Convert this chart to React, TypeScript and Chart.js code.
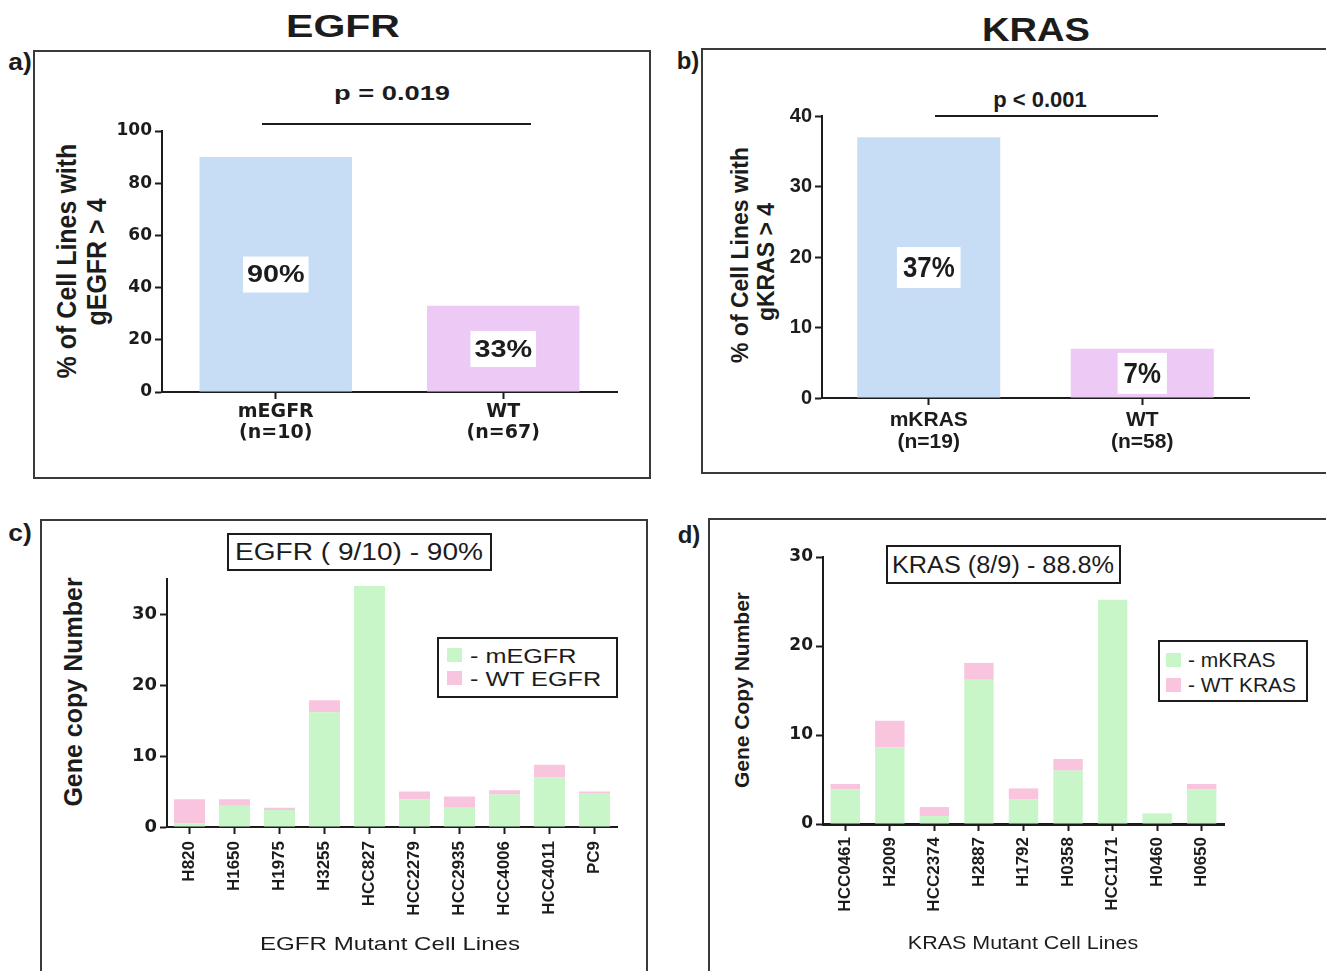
import React, { useEffect, useRef } from 'react';
import { Chart, registerables } from 'chart.js';

Chart.register(...registerables);

// ---------- data ----------
const egfrGroups = [['mEGFR', '(n=10)'], ['WT', '(n=67)']];
const egfrPct = [90, 33];

const krasGroups = [['mKRAS', '(n=19)'], ['WT', '(n=58)']];
const krasPct = [37, 7];

const egfrLines = ['H820', 'H1650', 'H1975', 'H3255', 'HCC827', 'HCC2279', 'HCC2935', 'HCC4006', 'HCC4011', 'PC9'];
const egfrMutant = [0.5, 3.0, 2.4, 16.2, 34.0, 3.9, 2.7, 4.6, 7.0, 4.8];
const egfrWildType = [3.4, 0.9, 0.3, 1.7, 0, 1.1, 1.6, 0.6, 1.8, 0.2];

const krasLines = ['HCC0461', 'H2009', 'HCC2374', 'H2887', 'H1792', 'H0358', 'HCC1171', 'H0460', 'H0650'];
const krasMutant = [3.9, 8.6, 0.9, 16.2, 2.8, 6.0, 25.2, 1.2, 3.9];
const krasWildType = [0.6, 3.0, 1.0, 1.9, 1.2, 1.3, 0, 0, 0.6];

// ---------- styles ----------
const FONT = '"Liberation Sans", Arial, sans-serif';
const DJ = '"DejaVu Sans", sans-serif';
const INK = '#1c1c1c';
const FRAME = '#3a3a3a';
const BLUE = 'rgb(198,221,245)';
const VIOLET = 'rgb(237,201,245)';
const GREEN = 'rgb(200,246,200)';
const PINK = 'rgb(249,196,221)';

function makePctPlugin(font: string, sx: number, h: number, padX: number) {
  return {
    id: 'pctBoxes',
    afterDatasetsDraw(chart: any) {
      const ctx = chart.ctx;
      const meta = chart.getDatasetMeta(0);
      const values = chart.data.datasets[0].data as number[];
      meta.data.forEach((el: any, i: number) => {
        const v = values[i];
        const text = `${v}%`;
        const y = chart.scales.y.getPixelForValue(v / 2);
        ctx.save();
        ctx.font = font;
        const tw = ctx.measureText(text).width * sx;
        const w = tw + padX * 2;
        ctx.fillStyle = '#ffffff';
        ctx.fillRect(el.x - w / 2, y - h / 2, w, h);
        ctx.translate(el.x, y);
        ctx.scale(sx, 1);
        ctx.fillStyle = INK;
        ctx.textAlign = 'center';
        ctx.textBaseline = 'middle';
        ctx.fillText(text, 0, 1);
        ctx.restore();
      });
    },
  };
}

function yAxis(max: number, step: number, font: any, width: number) {
  return {
    min: 0,
    max,
    afterFit: (s: any) => { s.width = width; },
    afterBuildTicks: (s: any) => { s.ticks = s.ticks.filter((t: any) => t.value % step === 0); },
    ticks: { stepSize: step, color: INK, font, padding: 3 },
    grid: { display: true, drawOnChartArea: false, drawTicks: true, tickLength: 7, tickWidth: 2, color: INK },
    border: { display: true, color: INK, width: 2 },
  };
}

function xAxis(height: number, font: any, rot: number, lineW: number, padding: number) {
  return {
    afterFit: (s: any) => { s.height = height; },
    ticks: { color: INK, font, padding, autoSkip: false, maxRotation: rot, minRotation: rot },
    grid: { display: true, offset: false, drawOnChartArea: false, drawTicks: true, tickLength: 7, tickWidth: 2, color: INK },
    border: { display: true, color: INK, width: lineW },
  };
}

function ChartBox(props: { left: number; top: number; width: number; height: number; make: () => any }) {
  const ref = useRef<HTMLCanvasElement>(null);
  useEffect(() => {
    const chart = new Chart(ref.current as HTMLCanvasElement, props.make());
    return () => chart.destroy();
  }, []);
  return (
    <canvas
      ref={ref}
      width={props.width}
      height={props.height}
      style={{ position: 'absolute', left: props.left, top: props.top, width: props.width, height: props.height }}
    />
  );
}

function T(p: { x: number; y: number; size: number; bold?: boolean; sx?: number; rot?: boolean; children: any }) {
  const sx = p.sx ?? 1;
  const tf = p.rot
    ? `translate(-50%,-50%) rotate(-90deg) scaleY(${sx})`
    : `translate(-50%,-50%) scaleX(${sx})`;
  return (
    <div
      style={{
        position: 'absolute', left: p.x, top: p.y, transform: tf, fontSize: p.size,
        fontWeight: p.bold === false ? 400 : 700, whiteSpace: 'nowrap', lineHeight: 1, fontFamily: FONT, color: INK,
      }}
    >
      {p.children}
    </div>
  );
}

function Frame(p: { left: number; top: number; width: number; height: number; children?: any }) {
  return (
    <div
      style={{
        position: 'absolute', left: p.left, top: p.top, width: p.width, height: p.height,
        border: `2px solid ${FRAME}`, boxSizing: 'border-box', background: '#fff',
      }}
    >
      {p.children}
    </div>
  );
}

function Legend(p: { left: number; top: number; width: number; height: number; items: { label: string; color: string }[]; size: number; sx: number; swL: number; txtL: number; rows: number[] }) {
  return (
    <div style={{ position: 'absolute', left: p.left, top: p.top, width: p.width, height: p.height, border: `2px solid ${INK}`, boxSizing: 'border-box', background: '#fff' }}>
      {p.items.map((it, i) => (
        <React.Fragment key={it.label}>
          <div style={{ position: 'absolute', left: p.swL, top: p.rows[i] - 7, width: 15, height: 14, background: it.color }} />
          <div style={{ position: 'absolute', left: p.txtL, top: p.rows[i], transformOrigin: 'left center', transform: `translateY(-50%) scaleX(${p.sx})`, fontSize: p.size, fontFamily: FONT, lineHeight: 1, whiteSpace: 'nowrap', color: INK }}>
            {it.label}
          </div>
        </React.Fragment>
      ))}
    </div>
  );
}

const noPlugins = { legend: { display: false }, tooltip: { enabled: false } };

function cfgA() {
  return {
    type: 'bar',
    data: {
      labels: egfrGroups,
      datasets: [{ data: egfrPct, backgroundColor: [BLUE, VIOLET], barPercentage: 0.67, categoryPercentage: 1 }],
    },
    options: {
      responsive: false, animation: false, devicePixelRatio: 1, events: [],
      layout: { padding: { top: 31, right: 23, left: 0, bottom: 0 } },
      plugins: noPlugins,
      scales: {
        x: xAxis(78, { family: DJ, size: 19, weight: 'bold', lineHeight: 1.1 }, 0, 2, 3),
        y: yAxis(100, 20, { family: DJ, size: 17, weight: 'bold' }, 62),
      },
    },
    plugins: [makePctPlugin(`bold 24px ${FONT}`, 1.2, 36, 4)],
  };
}

function cfgB() {
  return {
    type: 'bar',
    data: {
      labels: krasGroups,
      datasets: [{ data: krasPct, backgroundColor: [BLUE, VIOLET], barPercentage: 0.67, categoryPercentage: 1 }],
    },
    options: {
      responsive: false, animation: false, devicePixelRatio: 1, events: [],
      layout: { padding: { top: 26, right: 21, left: 0, bottom: 0 } },
      plugins: noPlugins,
      scales: {
        x: xAxis(82, { family: FONT, size: 21, weight: 'bold', lineHeight: 1.05 }, 0, 2, 4),
        y: yAxis(40, 10, { family: FONT, size: 20, weight: 'bold' }, 62),
      },
    },
    plugins: [makePctPlugin(`bold 30px ${FONT}`, 0.86, 41, 6)],
  };
}

function cfgC() {
  return {
    type: 'bar',
    data: {
      labels: egfrLines,
      datasets: [
        { label: 'mEGFR', data: egfrMutant, backgroundColor: GREEN, barPercentage: 0.69, categoryPercentage: 1 },
        { label: 'WT EGFR', data: egfrWildType, backgroundColor: PINK, barPercentage: 0.69, categoryPercentage: 1 },
      ],
    },
    options: {
      responsive: false, animation: false, devicePixelRatio: 1, events: [],
      layout: { padding: { top: 24, right: 23, left: 0, bottom: 0 } },
      plugins: noPlugins,
      scales: {
        x: { ...xAxis(138, { family: FONT, size: 17, weight: 'bold' }, 90, 2, 7), stacked: true },
        y: { ...yAxis(35, 10, { family: DJ, size: 18, weight: 'bold' }, 62), stacked: true },
      },
    },
  };
}

function cfgD() {
  return {
    type: 'bar',
    data: {
      labels: krasLines,
      datasets: [
        { label: 'mKRAS', data: krasMutant, backgroundColor: GREEN, barPercentage: 0.66, categoryPercentage: 1 },
        { label: 'WT KRAS', data: krasWildType, backgroundColor: PINK, barPercentage: 0.66, categoryPercentage: 1 },
      ],
    },
    options: {
      responsive: false, animation: false, devicePixelRatio: 1, events: [],
      layout: { padding: { top: 22, right: 21, left: 0, bottom: 0 } },
      plugins: noPlugins,
      scales: {
        x: { ...xAxis(141, { family: FONT, size: 17, weight: 'bold' }, 90, 3, 6), stacked: true },
        y: { ...yAxis(30, 10, { family: DJ, size: 17, weight: 'bold' }, 63), stacked: true },
      },
    },
  };
}

export default function App() {
  return (
    <div style={{ position: 'absolute', left: 0, top: 0, width: 1326, height: 971, overflow: 'hidden', background: '#fff', fontFamily: FONT }}>
      {/* frames */}
      <Frame left={33} top={50} width={618} height={429} />
      <Frame left={701} top={48} width={640} height={426} />
      <Frame left={40} top={519} width={608} height={500} />
      <Frame left={708} top={518} width={640} height={500} />

      {/* titles and panel letters */}
      <T x={343} y={26} size={32} sx={1.28}>EGFR</T>
      <T x={1036} y={29} size={34} sx={1.12}>KRAS</T>
      <T x={20} y={62} size={24} sx={1.1}>a)</T>
      <T x={688} y={61} size={24} sx={1.0}>b)</T>
      <T x={20} y={533} size={24} sx={1.1}>c)</T>
      <T x={689} y={535} size={24} sx={1.0}>d)</T>

      {/* panel a */}
      <T x={392} y={92} size={21} sx={1.3}>p = 0.019</T>
      <div style={{ position: 'absolute', left: 262, top: 123, width: 269, height: 2, background: INK }} />
      <T x={67} y={261} size={25} sx={1.1} rot>% of Cell Lines with</T>
      <T x={97} y={262} size={25} sx={1.1} rot>gEGFR &gt; 4</T>
      <ChartBox left={100} top={100} width={540} height={370} make={cfgA} />

      {/* panel b */}
      <T x={1040} y={100} size={22}>p &lt; 0.001</T>
      <div style={{ position: 'absolute', left: 935, top: 115, width: 223, height: 2, background: INK }} />
      <T x={740} y={255} size={23} rot>% of Cell Lines with</T>
      <T x={766} y={262} size={23} rot>gKRAS &gt; 4</T>
      <ChartBox left={760} top={90} width={510} height={390} make={cfgB} />

      {/* panel c */}
      <ChartBox left={105} top={555} width={535} height={410} make={cfgC} />
      <div style={{ position: 'absolute', left: 227, top: 533, width: 265, height: 38, border: `2px solid ${INK}`, boxSizing: 'border-box', background: '#fff' }} />
      <T x={359} y={552} size={23} bold={false} sx={1.22}>EGFR ( 9/10) - 90%</T>
      <Legend left={437} top={637} width={181} height={61} size={21} sx={1.2} swL={8} txtL={31}
        rows={[16, 39]} items={[{ label: '- mEGFR', color: GREEN }, { label: '- WT EGFR', color: PINK }]} />
      <T x={73} y={692} size={25} rot>Gene copy Number</T>
      <T x={390} y={943} size={19} bold={false} sx={1.27}>EGFR Mutant Cell Lines</T>

      {/* panel d */}
      <ChartBox left={760} top={535} width={485} height={430} make={cfgD} />
      <div style={{ position: 'absolute', left: 886, top: 545, width: 235, height: 39, border: `2px solid ${INK}`, boxSizing: 'border-box', background: '#fff' }} />
      <T x={1003} y={565} size={23} bold={false} sx={1.1}>KRAS (8/9) - 88.8%</T>
      <Legend left={1158} top={640} width={150} height={62} size={20} sx={1.05} swL={6} txtL={28}
        rows={[18, 43]} items={[{ label: '- mKRAS', color: GREEN }, { label: '- WT KRAS', color: PINK }]} />
      <T x={741} y={690} size={21} rot>Gene Copy Number</T>
      <T x={1023} y={942} size={19} bold={false} sx={1.13}>KRAS Mutant Cell Lines</T>
    </div>
  );
}
